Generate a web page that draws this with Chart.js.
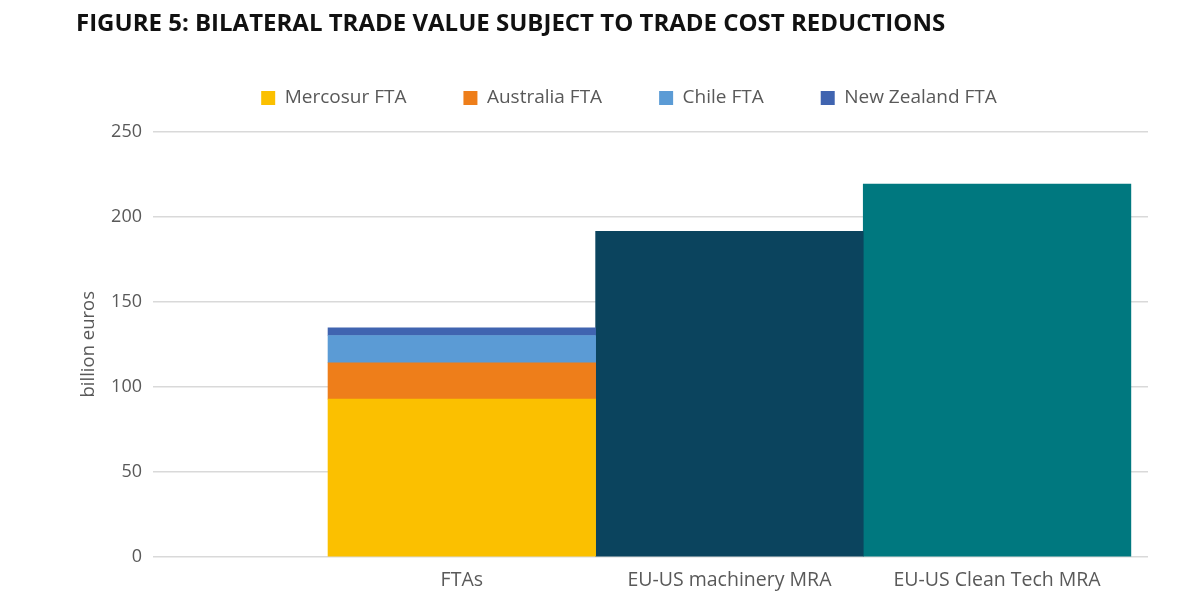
<!DOCTYPE html>
<html><head><meta charset="utf-8">
<script src="https://cdn.jsdelivr.net/npm/chart.js@4/dist/chart.umd.min.js"></script>
<style>html,body{margin:0;padding:0;background:#fff;overflow:hidden}</style>
</head><body>
<canvas id="c" width="1200" height="607"></canvas>
<script>
const categories = ['FTAs', 'EU-US machinery MRA', 'EU-US Clean Tech MRA'];
const mercosurFTA = [92.7, null, null];
const australiaFTA = [21.4, null, null];
const chileFTA = [16.0, null, null];
const newZealandFTA = [4.5, null, null];
const machineryMRA = [null, 191.3, null];
const cleanTechMRA = [null, null, 219.1];
const yTicks = [0, 50, 100, 150, 200, 250];

const toPoints = arr => arr.map((v, i) => v == null ? null : {x: i + 1, y: v}).filter(Boolean);
const textColor = '#595959';
const bodyFont = '"Open Sans"';
Chart.defaults.font.family = bodyFont;

const mk = (label, arr, color) => ({label, data: toPoints(arr), backgroundColor: color, borderWidth: 0, barPercentage: 1, categoryPercentage: 1});

new Chart(document.getElementById('c'), {
  type: 'bar',
  data: {
    datasets: [
      mk('Mercosur FTA', mercosurFTA, '#FBC000'),
      mk('Australia FTA', australiaFTA, '#EE7E1A'),
      mk('Chile FTA', chileFTA, '#5B9BD5'),
      mk('New Zealand FTA', newZealandFTA, '#4064B0'),
      mk('EU-US machinery MRA', machineryMRA, '#0B445E'),
      mk('EU-US Clean Tech MRA', cleanTechMRA, '#00787F')
    ]
  },
  options: {
    responsive: false,
    animation: false,
    devicePixelRatio: 1,
    layout: {padding: {left: 76, right: 18, top: 0, bottom: 0}},
    plugins: {
      title: {
        display: true, align: 'start', color: '#111111',
        text: 'FIGURE 5: BILATERAL TRADE VALUE SUBJECT TO TRADE COST REDUCTIONS',
        font: {family: bodyFont, size: 24, weight: 'bold', lineHeight: 1.2},
        padding: {top: 10, bottom: -7.4}
      },
      subtitle: {display: true, text: ' ', weight: 500, font: {size: 10, lineHeight: 1}, padding: {top: 4, bottom: 0}},
      legend: {
        display: true, position: 'top', align: 'center',
        labels: {
          boxWidth: 14, boxHeight: 14, padding: 57, color: textColor,
          font: {family: bodyFont, size: 19},
          filter: item => item.datasetIndex < 4
        }
      },
      tooltip: {enabled: false}
    },
    scales: {
      x: {
        type: 'linear', min: -0.154, max: 3.564, stacked: true, offset: false, bounds: 'data', grace: 0,
        grid: {display: false, drawTicks: false, offset: false}, border: {display: false},
        afterBuildTicks: s => { s.ticks = categories.map((c, i) => ({value: i + 1})); },
        ticks: {callback: v => categories[v - 1] ?? '', color: textColor, font: {family: bodyFont, size: 19.5}, padding: 12, maxRotation: 0, autoSkip: false},
        afterFit: s => { s.height = 50; }
      },
      y: {
        stacked: true, min: 0, max: 250,
        afterBuildTicks: s => { s.ticks = yTicks.map(v => ({value: v})); },
        ticks: {color: textColor, font: {family: bodyFont, size: 18}, padding: 11},
        grid: {color: '#d9d9d9', lineWidth: 1.5, drawTicks: false}, border: {display: false},
        title: {display: true, text: 'billion euros', color: textColor, font: {family: bodyFont, size: 18.5}, padding: {top: 2, bottom: 0}},
        afterFit: s => { s.width = 77; }
      },
      yR: {
        position: 'right', display: true,
        grid: {display: false, drawTicks: false}, ticks: {display: false}, border: {display: false},
        afterFit: s => { s.width = 34; }
      }
    }
  }
});
</script>
</body></html>
